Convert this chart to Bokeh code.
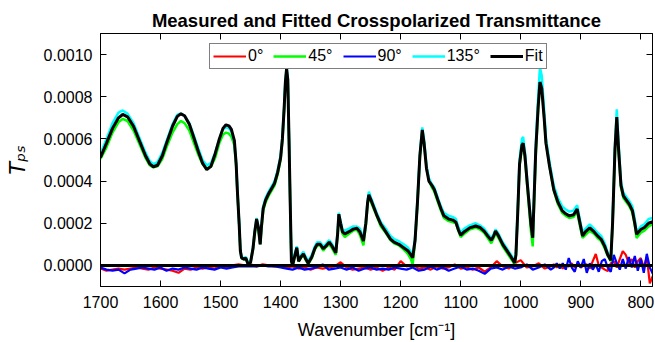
import numpy as np
from bokeh.plotting import figure
from bokeh.models import (Range1d, FixedTicker, NumeralTickFormatter, LinearAxis,
                          Legend, LegendItem)
from bokeh.embed import file_html
from bokeh.resources import INLINE

# ---------------- data (transmittance in units of 1e-4) ----------------
wn = [1700, 1690, 1680, 1670, 1663, 1655, 1645, 1635, 1625, 1618, 1612, 1605, 1597, 1590,
      1580, 1572, 1566, 1560, 1552, 1545, 1537, 1530, 1523, 1516, 1509, 1502, 1496, 1491,
      1486, 1482, 1477, 1474, 1472, 1469, 1467, 1465, 1461, 1458, 1454, 1450, 1446, 1443,
      1440, 1437, 1434, 1432, 1429, 1425, 1420, 1414, 1410, 1405, 1400, 1397, 1394, 1392,
      1390, 1388, 1386, 1384, 1382, 1380, 1376, 1373, 1370, 1366, 1362, 1358, 1354, 1348,
      1343, 1339, 1334, 1329, 1325, 1319, 1314, 1308, 1305, 1303, 1300, 1297, 1293, 1286,
      1279, 1273, 1268, 1262, 1258, 1255, 1253, 1248, 1240, 1233, 1225, 1217, 1211, 1203,
      1195, 1188, 1183, 1180, 1176, 1172, 1168, 1164, 1161, 1157, 1153, 1148, 1144, 1138,
      1133, 1128, 1120, 1113, 1108, 1104, 1100, 1094, 1085, 1075, 1068, 1061, 1055, 1049,
      1045, 1042, 1037, 1030, 1023, 1016, 1010, 1008, 1005, 1002, 998, 996, 993, 989, 983,
      980, 975, 971, 968, 965, 961, 958, 952, 945, 938, 931, 925, 919, 912, 906, 902, 897,
      892, 885, 878, 872, 866, 860, 855, 850, 847, 843, 840, 837, 833, 829, 824, 819, 814,
      810, 807, 800, 794, 787, 780]

fit = [5.12, 5.80, 6.50, 7.00, 7.16, 7.05, 6.60, 5.90, 5.20, 4.82, 4.68, 4.75, 5.20, 5.80,
       6.60, 7.07, 7.19, 7.10, 6.70, 6.10, 5.40, 4.85, 4.54, 4.70, 5.30, 6.00, 6.50, 6.67,
       6.62, 6.45, 5.92, 4.80, 3.54, 1.95, 0.68, 0.36, 0.30, 0.35, 0.05, 0.15, 0.80, 1.60,
       2.20, 1.80, 1.00, 1.80, 2.70, 3.10, 3.40, 3.70, 3.90, 4.40, 5.10, 6.00, 7.50, 8.70,
       9.33, 8.80, 6.00, 3.00, 0.20, 0.00, 0.50, 0.84, 0.20, 0.40, 0.55, 0.30, 0.10, 0.40,
       0.80, 1.00, 1.00, 0.80, 0.90, 1.10, 0.90, 0.60, 1.50, 2.43, 2.00, 1.60, 1.50, 1.60,
       1.72, 1.76, 1.60, 1.16, 2.00, 3.00, 3.35, 3.00, 2.40, 1.95, 1.60, 1.25, 1.10, 1.00,
       0.84, 0.70, 0.50, 0.36, 1.20, 3.00, 5.20, 6.43, 5.80, 4.60, 4.00, 3.80, 3.60, 3.10,
       2.70, 2.35, 2.20, 2.15, 2.05, 1.70, 1.44, 1.60, 1.78, 1.87, 1.80, 1.63, 1.40, 1.19,
       1.40, 1.63, 1.40, 1.00, 0.70, 0.40, 0.12, 0.50, 2.50, 4.80, 5.70, 5.80, 5.20, 3.86, 1.95,
       1.31, 5.44, 7.50, 8.70, 8.40, 7.00, 5.80, 4.70, 3.60, 3.00, 2.60, 2.45, 2.35, 2.40, 2.67,
       2.10, 1.40, 1.60, 1.78, 1.60, 1.40, 1.24, 0.90, 0.50, 0.24, 2.00, 5.50, 7.03, 5.50,
       3.80, 3.30, 3.10, 2.90, 2.60, 2.00, 1.48, 1.70, 1.80, 2.00, 2.08]

t45 = [5.05, 5.60, 6.30, 6.80, 6.95, 6.85, 6.40, 5.75, 5.10, 4.75, 4.65, 4.70, 5.05, 5.60,
       6.30, 6.70, 6.85, 6.75, 6.40, 5.85, 5.25, 4.80, 4.60, 4.70, 5.10, 5.80, 6.20, 6.30,
       6.25, 6.10, 5.70, 4.70, 3.50, 1.95, 0.70, 0.35, 0.28, 0.32, 0.05, 0.15, 0.75, 1.50,
       2.10, 1.75, 1.00, 1.70, 2.60, 3.00, 3.30, 3.60, 3.80, 4.30, 5.00, 5.90, 7.40, 8.60,
       9.25, 8.70, 5.90, 2.90, 0.20, 0.00, 0.45, 0.80, 0.18, 0.35, 0.50, 0.25, 0.05, 0.35,
       0.75, 0.95, 0.95, 0.70, 0.85, 1.00, 0.80, 0.50, 1.45, 2.35, 1.90, 1.50, 1.35, 1.50,
       1.65, 1.70, 1.45, 0.95, 1.90, 2.90, 3.25, 2.90, 2.35, 1.85, 1.55, 1.20, 1.05, 0.95,
       0.75, 0.55, 0.30, 0.05, 1.10, 2.90, 5.10, 6.35, 5.80, 4.65, 4.05, 3.70, 3.50, 3.00,
       2.60, 2.25, 2.10, 2.05, 2.00, 1.65, 1.35, 1.50, 1.70, 1.80, 1.70, 1.55, 1.30, 1.05,
       1.30, 1.55, 1.30, 0.90, 0.60, 0.30, 0.05, 0.45, 2.40, 4.70, 5.65, 5.75, 5.10, 3.70, 1.60,
       0.90, 5.20, 7.40, 8.65, 8.45, 7.05, 5.85, 4.70, 3.55, 2.90, 2.50, 2.35, 2.25, 2.30, 2.55,
       1.95, 1.30, 1.45, 1.65, 1.50, 1.30, 1.15, 0.80, 0.45, 0.20, 1.90, 5.40, 6.95, 5.40,
       3.70, 3.20, 3.00, 2.80, 2.50, 1.90, 1.30, 1.55, 1.65, 1.85, 1.95]

t135 = [5.30, 6.00, 6.75, 7.25, 7.35, 7.20, 6.75, 6.05, 5.35, 4.95, 4.80, 4.90, 5.35, 5.90,
        6.70, 7.15, 7.20, 7.10, 6.75, 6.20, 5.55, 5.00, 4.75, 4.85, 5.35, 6.00, 6.45, 6.55,
        6.50, 6.35, 5.85, 4.85, 3.60, 2.00, 0.75, 0.40, 0.35, 0.40, 0.10, 0.20, 0.85, 1.65,
        2.25, 1.85, 1.05, 1.85, 2.80, 3.20, 3.50, 3.80, 4.00, 4.50, 5.20, 6.10, 7.60, 8.80,
        9.40, 8.90, 6.10, 3.10, 0.25, 0.05, 0.60, 0.90, 0.30, 0.50, 0.65, 0.40, 0.20, 0.50,
        0.90, 1.10, 1.10, 0.90, 1.00, 1.20, 1.00, 0.70, 1.60, 2.50, 2.10, 1.70, 1.65, 1.75,
        1.85, 1.85, 1.75, 1.30, 2.10, 3.10, 3.50, 3.10, 2.50, 2.05, 1.75, 1.40, 1.25, 1.15,
        1.00, 0.85, 0.65, 0.45, 1.30, 3.10, 5.30, 6.55, 5.95, 4.75, 4.15, 3.85, 3.70, 3.20,
        2.80, 2.50, 2.35, 2.30, 2.20, 1.85, 1.55, 1.75, 1.90, 2.00, 1.90, 1.75, 1.50, 1.30,
        1.50, 1.70, 1.50, 1.10, 0.80, 0.50, 0.20, 0.60, 2.60, 5.00, 6.00, 6.10, 5.40, 4.00, 2.05,
        1.45, 5.70, 8.00, 9.40, 9.00, 7.40, 6.05, 4.90, 3.80, 3.20, 2.80, 2.65, 2.55, 2.60, 2.85,
        2.25, 1.55, 1.75, 1.95, 1.75, 1.55, 1.40, 1.05, 0.60, 0.30, 2.10, 5.70, 7.40, 5.80,
        3.95, 3.45, 3.25, 3.05, 2.80, 2.20, 1.60, 1.85, 1.95, 2.20, 2.25]

wn_noise = list(range(1700, 950, -10)) + list(range(950, 775, -5))

t0 = [-0.15, -0.25, -0.20, -0.15, -0.20, -0.15, -0.10, -0.15, -0.20, -0.10, -0.15, -0.20,
      -0.25, -0.35, -0.15, -0.20, -0.10, -0.15, -0.10, -0.15, -0.05, -0.10, 0.00, 0.05,
      0.00, 0.05, -0.05, 0.05, 0.00, -0.05, 0.00, -0.10, -0.05, -0.15, -0.10, -0.20, -0.10,
      -0.15, -0.10, -0.05, 0.15, -0.10, -0.20, -0.15, -0.10, -0.20, -0.10, -0.25, -0.10,
      -0.20, 0.20, -0.05, 0.05, -0.15, -0.10, -0.20, -0.05, -0.15, -0.10, 0.05, -0.15,
      -0.10, -0.20, -0.10, -0.30, -0.10, 0.20, -0.05, -0.15, 0.10, 0.25, -0.10, -0.05,
      0.10, -0.15,
      -0.05, 0.05, -0.10, 0.05, -0.15, 0.00, -0.05, 0.10, -0.10, 0.05, -0.10, 0.00, 0.05,
      -0.15, 0.20, 0.54, 0.00, -0.10, -0.20, -0.27, 0.10, 0.20, -0.10, 0.30, 0.68, 0.50,
      0.10, 0.30, -0.10, 0.20, 0.35, -0.10, 0.40, -0.85, -0.50]

t90 = [-0.10, -0.20, -0.25, -0.20, -0.38, -0.20, -0.15, -0.10, -0.15, -0.20, -0.10, -0.25,
       -0.15, -0.20, -0.10, -0.15, -0.20, -0.10, -0.15, -0.20, -0.10, -0.15, -0.10, -0.05,
       -0.05, -0.05, -0.05, 0.00, -0.05, -0.05, -0.10, -0.15, -0.20, -0.10, -0.20, -0.15,
       -0.10, 0.05, -0.20, -0.15, -0.10, -0.20, -0.10, -0.25, -0.15, -0.10, -0.20, -0.15,
       -0.20, -0.10, -0.15, -0.20, -0.10, -0.25, -0.20, -0.05, -0.20, -0.10, -0.25, -0.15,
       -0.05, -0.20, -0.15, -0.25, -0.40, -0.15, -0.10, -0.20, -0.05, -0.15, -0.10, 0.05,
       -0.20, -0.10, 0.05,
       -0.20, -0.10, 0.10, -0.15, 0.10, -0.20, 0.35, -0.10, -0.30, 0.20, -0.10, 0.30, -0.35,
       0.10, -0.20, 0.05, -0.30, 0.20, 0.30, -0.10, -0.30, 0.50, 0.10, -0.20, 0.30, -0.15,
       0.40, -0.10, 0.45, -0.25, 0.30, -0.35, 0.55, -0.10, -0.40]

wn_fit0 = [1700, 780]
fit0 = [0.0, 0.0]

x_ticks = [1700, 1600, 1500, 1400, 1300, 1200, 1100, 1000, 900, 800]
y_ticks = [0.0, 0.0002, 0.0004, 0.0006, 0.0008, 0.0010]

scale = 1e-4
FONT = "Liberation Sans"

# ---------------- figure ----------------
p = figure(width=655, height=342, output_backend="svg", toolbar_location=None,
           x_range=Range1d(1700, 780.5), y_range=Range1d(-0.0001, 0.0011),
           min_border_left=100, min_border_right=3, min_border_top=33,
           min_border_bottom=56)
p.background_fill_color = "white"
p.border_fill_color = "white"
p.outline_line_color = "black"
p.outline_line_width = 1
p.grid.visible = False

p.title.text = "Measured and Fitted Crosspolarized Transmittance"
p.title.align = "center"
p.title.text_font = FONT
p.title.text_font_style = "bold"
p.title.text_font_size = "18.5px"
p.title.text_color = "black"
p.title.standoff = 6

r0 = p.line(wn_noise, np.array(t0) * scale, color="#ff0000", line_width=2.2)
r90 = p.line(wn_noise, np.array(t90) * scale, color="#0000ff", line_width=2.2)
r45 = p.line(wn, np.array(t45) * scale, color="#00ff00", line_width=2.5)
r135 = p.line(wn, np.array(t135) * scale, color="#00ffff", line_width=2.5)
rf0 = p.line(wn_fit0, np.array(fit0) * scale, color="black", line_width=3)
rf = p.line(wn, np.array(fit) * scale, color="black", line_width=3)

# axes
xa = p.xaxis[0]
xa.ticker = FixedTicker(ticks=x_ticks)
xa.axis_label = "Wavenumber [cm\u207b\u00b9]"
ya = p.yaxis[0]
ya.ticker = FixedTicker(ticks=y_ticks)
ya.formatter = NumeralTickFormatter(format="0.0000")
ya.axis_label = "T\u209a\u209b"

for ax in (xa, ya):
    ax.axis_line_color = "black"
    ax.major_tick_line_color = "black"
    ax.major_tick_in = 6
    ax.major_tick_out = 0
    ax.minor_tick_line_color = None
    ax.major_label_text_font = FONT
    ax.major_label_text_font_size = "16px"
    ax.major_label_text_color = "black"
    ax.axis_label_text_font = FONT
    ax.axis_label_text_font_size = "18px"
    ax.axis_label_text_color = "black"
xa.axis_label_text_font_style = "normal"
ya.axis_label_text_font_style = "italic"
ya.axis_label_text_font = "DejaVu Sans"
ya.axis_label_text_font_size = "21px"
xa.major_label_standoff = 9
ya.major_label_standoff = 8
xa.axis_label_standoff = 9
ya.axis_label_standoff = 11

for loc, tk in (("above", x_ticks), ("right", y_ticks)):
    ax = LinearAxis(ticker=FixedTicker(ticks=tk))
    ax.axis_line_color = "black"
    ax.major_tick_line_color = "black"
    ax.major_tick_in = 6
    ax.major_tick_out = 0
    ax.minor_tick_line_color = None
    ax.major_label_text_font_size = "1px"
    ax.major_label_text_color = None
    ax.major_label_standoff = 0
    p.add_layout(ax, loc)

legend = Legend(items=[LegendItem(label="0\u00b0", renderers=[r0]),
                       LegendItem(label="45\u00b0", renderers=[r45]),
                       LegendItem(label="90\u00b0", renderers=[r90]),
                       LegendItem(label="135\u00b0", renderers=[r135]),
                       LegendItem(label="Fit", renderers=[rf])],
                orientation="horizontal", location=(109, 217))
legend.label_text_font = FONT
legend.label_text_font_size = "16px"
legend.label_text_color = "black"
legend.glyph_width = 33
legend.glyph_height = 18
legend.label_height = 18
legend.label_width = 1
legend.label_standoff = 2
legend.spacing = 10
legend.padding = 3
legend.margin = 0
legend.border_line_color = "black"
legend.border_line_width = 1
legend.background_fill_alpha = 1
p.add_layout(legend)

open("out.html", "w").write(file_html(p, INLINE))
